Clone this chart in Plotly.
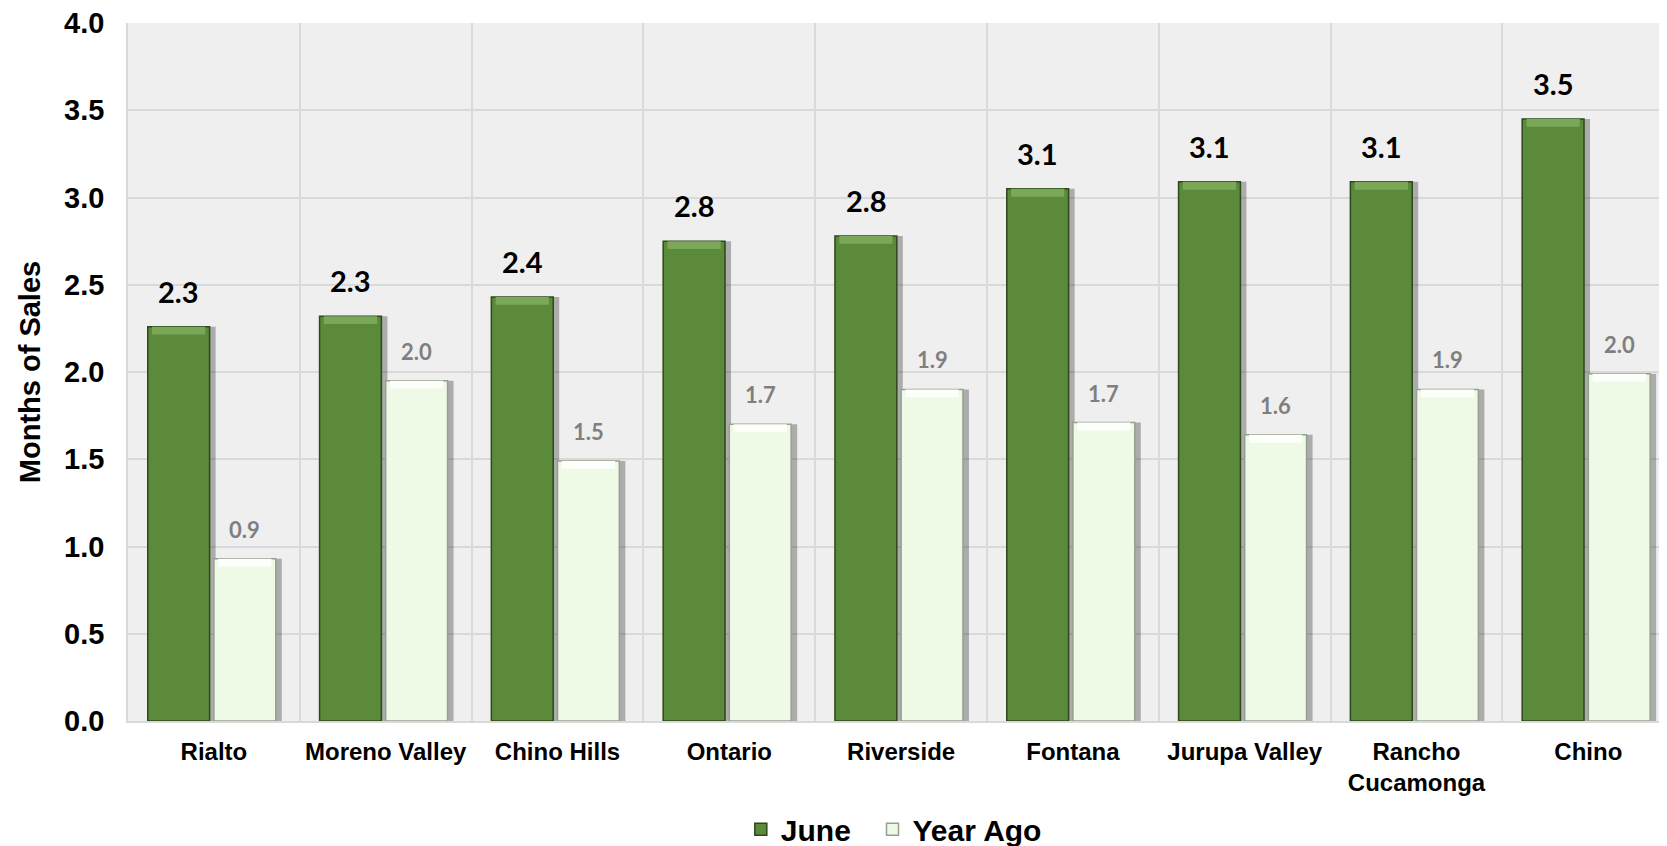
import plotly.graph_objects as go

categories = ["Rialto", "Moreno Valley", "Chino Hills", "Ontario", "Riverside",
              "Fontana", "Jurupa Valley", "Rancho<br>Cucamonga", "Chino"]
june = [2.26, 2.32, 2.43, 2.75, 2.78, 3.05, 3.09, 3.09, 3.45]
june_labels = ["2.3", "2.3", "2.4", "2.8", "2.8", "3.1", "3.1", "3.1", "3.5"]
year_ago = [0.93, 1.95, 1.49, 1.70, 1.90, 1.71, 1.64, 1.90, 1.99]
year_ago_labels = ["0.9", "2.0", "1.5", "1.7", "1.9", "1.7", "1.6", "1.9", "2.0"]
y_ticks = [0.0, 0.5, 1.0, 1.5, 2.0, 2.5, 3.0, 3.5, 4.0]
series_names = ["June", "Year Ago"]

W = 0.36
OFF_J = -0.385
OFF_Y = 0.0
BEV = 0.045

ARIAL = "Liberation Sans, Arial, sans-serif"

june_fill = "rgb(91,138,58)"
june_edge = "rgb(45,72,28)"
june_top = "rgb(122,168,88)"
ya_fill = "rgb(238,250,230)"
ya_edge = "rgb(150,160,145)"
ya_top = "rgb(252,255,250)"

fig = go.Figure()

# shadows
for vals, off in [(june, OFF_J), (year_ago, OFF_Y)]:
    fig.add_trace(go.Bar(x=categories, y=vals, width=W, offset=off + 0.035,
                         marker=dict(color="rgba(0,0,0,0.28)", line=dict(width=0)),
                         showlegend=False, hoverinfo="skip"))

fig.add_trace(go.Bar(name=series_names[0] + "\u00a0\u00a0", x=categories, y=june, width=W, offset=OFF_J,
                     marker=dict(color=june_fill, line=dict(color=june_edge, width=1.5))))
fig.add_trace(go.Bar(name=series_names[1], x=categories, y=year_ago, width=W, offset=OFF_Y,
                     marker=dict(color=ya_fill, line=dict(color=ya_edge, width=1.5))))

# top bevels
for vals, off, col in [(june, OFF_J, june_top), (year_ago, OFF_Y, ya_top)]:
    fig.add_trace(go.Bar(x=categories, y=[BEV] * len(vals), base=[v - BEV for v in vals],
                         width=W - 0.05, offset=off + 0.025,
                         marker=dict(color=col, line=dict(width=0)),
                         showlegend=False, hoverinfo="skip"))

annotations = []
for c, v, t in zip(categories, june, june_labels):
    annotations.append(dict(x=c, y=v, text=t, showarrow=False, xref="x", yref="y",
                            xshift=-35, yshift=16, yanchor="bottom",
                            font=dict(family="Lato", size=29, color="black", weight="bold")))
for c, v, t in zip(categories, year_ago, year_ago_labels):
    annotations.append(dict(x=c, y=v, text=t, showarrow=False, xref="x", yref="y",
                            xshift=31, yshift=14, yanchor="bottom",
                            font=dict(family="Lato", size=22, color="rgb(127,127,127)", weight="bold")))

fig.update_layout(
    width=1659, height=838,
    margin=dict(l=120, r=0, t=15, b=125, autoexpand=False),
    paper_bgcolor="white", plot_bgcolor="rgb(239,239,239)",
    barmode="overlay",
    annotations=annotations,
    showlegend=True,
    legend=dict(orientation="h", x=0.4976, xanchor="center", yref="container", y=0.02, yanchor="middle",
                font=dict(family=ARIAL, size=30, color="black", weight="bold"),
                traceorder="normal", itemwidth=30),
    xaxis=dict(range=[-0.5, 8.458], tickson="boundaries", showgrid=True, automargin=False,
               gridcolor="rgb(217,217,217)", gridwidth=1.5, ticks="",
               showline=True, linecolor="rgb(217,217,217)", linewidth=1.5,
               tickfont=dict(family=ARIAL, size=24, color="black", weight="bold"),
               ticklabelstandoff=8),
    yaxis=dict(range=[0, 4], tickvals=y_ticks, tickformat=".1f", showgrid=True, automargin=False,
               gridcolor="rgb(217,217,217)", gridwidth=1.5, zeroline=False, ticks="",
               showline=True, linecolor="rgb(217,217,217)", linewidth=1.5,
               tickfont=dict(family=ARIAL, size=29, color="black", weight="bold"),
               ticklabelstandoff=16, ticklabeloverflow="allow",
               title=dict(text="Months of Sales", standoff=15,
                          font=dict(family=ARIAL, size=29, color="black", weight="bold"))),
)

fig.write_html("out.html")
